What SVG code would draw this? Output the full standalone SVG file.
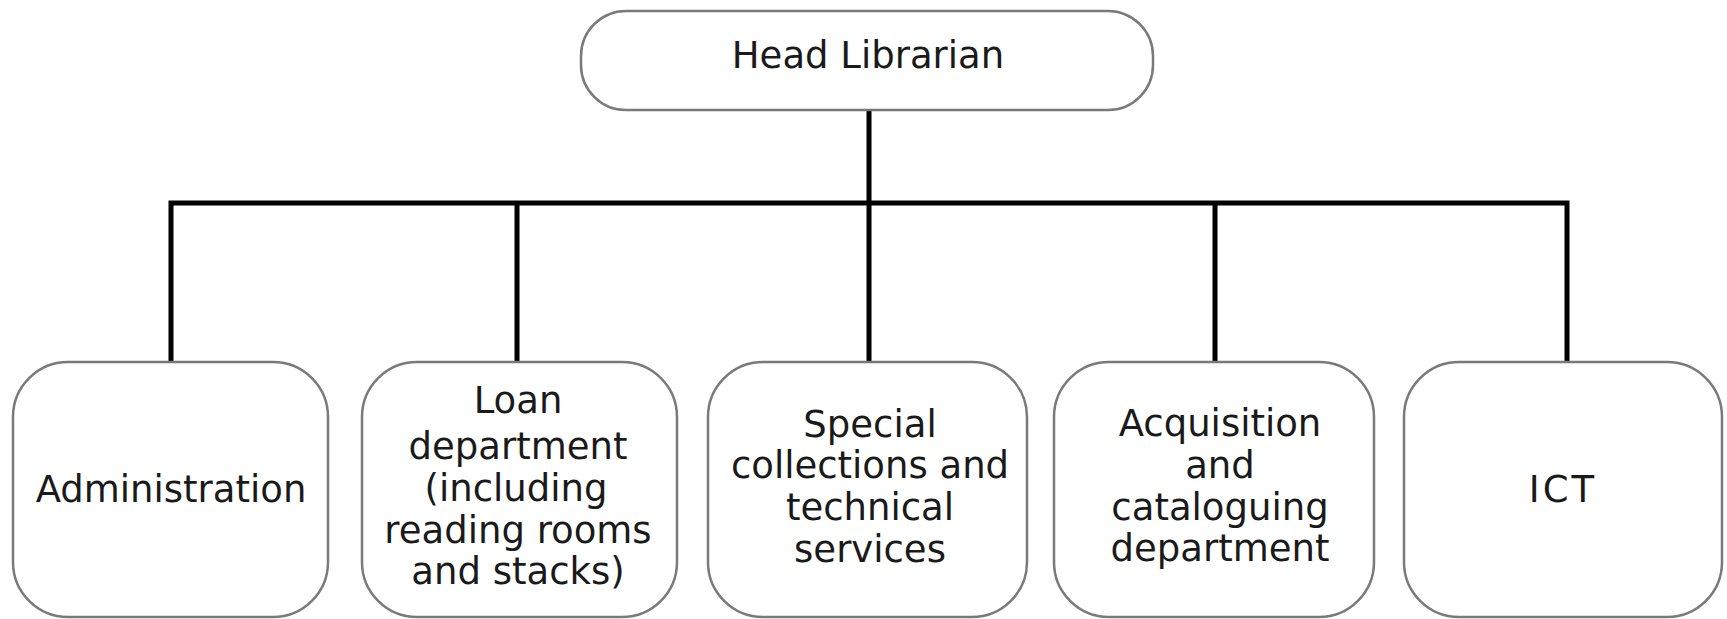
<svg xmlns="http://www.w3.org/2000/svg" width="1727" height="619" viewBox="0 0 1727 619">
<style>
.box{fill:#fff;stroke:#7a7a7a;stroke-width:2.5}
.t{font-family:"DejaVu Sans","Liberation Sans",sans-serif;font-size:37px;fill:#1a1a1a;text-anchor:middle}
.conn{stroke:#000;stroke-width:5;fill:none;stroke-linecap:square}
</style>
<rect width="1727" height="619" fill="#fff"/>
<g id="connectors">
<path class="conn" d="M869 110V203M171 203H1567M171 203V362M517 203V362M869 203V362M1215 203V362M1567 203V362"/>
</g>
<g id="head">
<rect class="box" x="581" y="11" width="572" height="99" rx="45" ry="45"/>
<text class="t" x="868" y="68">Head Librarian</text>
</g>
<g id="admin">
<rect class="box" x="13" y="362" width="315" height="255" rx="55" ry="55"/>
<text class="t" x="171" y="502">Administration</text>
</g>
<g id="loan">
<rect class="box" x="362" y="362" width="315" height="255" rx="55" ry="55"/>
<text class="t" x="518"><tspan x="518" y="413">Loan</tspan><tspan x="518" y="459">department</tspan><tspan x="516" y="501">(including</tspan><tspan x="518" y="543">reading rooms</tspan><tspan x="518" y="584">and stacks)</tspan></text>
</g>
<g id="special">
<rect class="box" x="708" y="362" width="319" height="255" rx="55" ry="55"/>
<text class="t" x="870"><tspan x="870" y="437">Special</tspan><tspan x="870" y="478">collections and</tspan><tspan x="870" y="520">technical</tspan><tspan x="870" y="562">services</tspan></text>
</g>
<g id="acq">
<rect class="box" x="1054" y="362" width="320" height="255" rx="55" ry="55"/>
<text class="t" x="1220"><tspan x="1220" y="436">Acquisition</tspan><tspan x="1220" y="478">and</tspan><tspan x="1220" y="520">cataloguing</tspan><tspan x="1220" y="561">department</tspan></text>
</g>
<g id="ict">
<rect class="box" x="1404" y="362" width="318" height="255" rx="55" ry="55"/>
<text class="t" x="1563" y="502" style="letter-spacing:3px">ICT</text>
</g>
</svg>
